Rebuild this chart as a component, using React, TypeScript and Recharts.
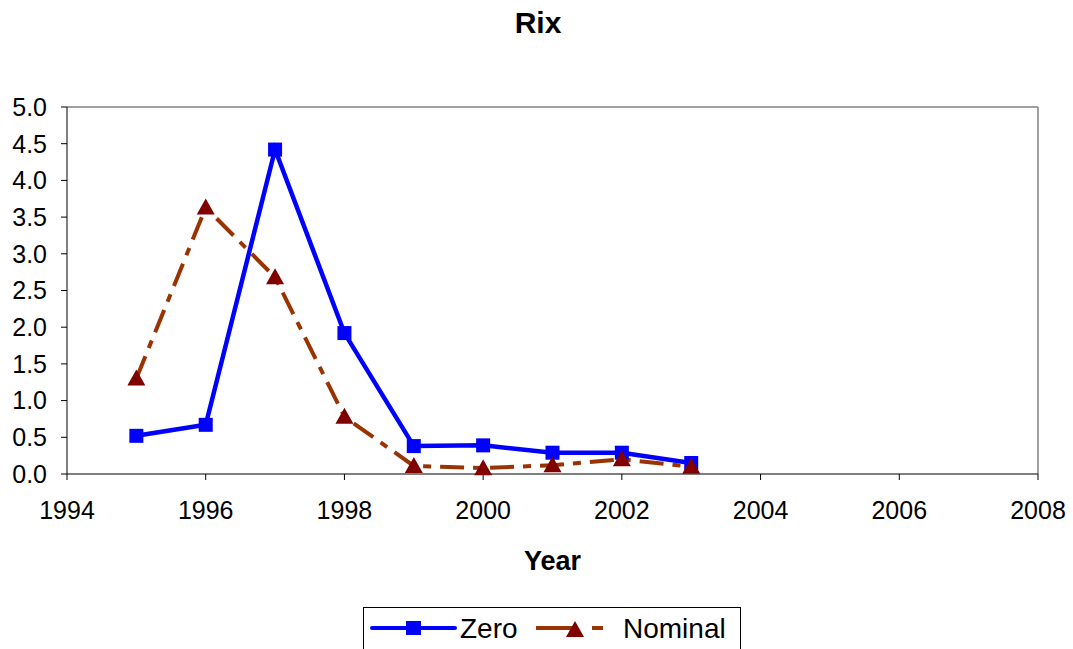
import React from 'react';
import { LineChart, Line, XAxis, YAxis, ReferenceLine, Customized } from 'recharts';

const years = [1995, 1996, 1997, 1998, 1999, 2000, 2001, 2002, 2003];
const zero = [0.52, 0.67, 4.42, 1.92, 0.38, 0.39, 0.29, 0.29, 0.15];
const nominal = [1.3, 3.63, 2.68, 0.78, 0.11, 0.08, 0.12, 0.2, 0.1];
const xTicks = [1994, 1996, 1998, 2000, 2002, 2004, 2006, 2008];
const yTicks = [0, 0.5, 1, 1.5, 2, 2.5, 3, 3.5, 4, 4.5, 5];

const data = years.map((year, i) => ({ year, Zero: zero[i], Nominal: nominal[i] }));

const font = 'Liberation Sans, Arial, sans-serif';

const Square = (props: any) => {
  const { cx, cy } = props;
  if (cx == null || cy == null) return null;
  return <rect x={cx - 7} y={cy - 7} width={14} height={14} fill="#0000ff" />;
};

const Triangle = (props: any) => {
  const { cx, cy } = props;
  if (cx == null || cy == null) return null;
  return <polygon points={`${cx},${cy - 9} ${cx + 9},${cy + 7} ${cx - 9},${cy + 7}`} fill="#800000" />;
};

// title and legend box drawn on top of the chart svg
const Extras = () => (
  <g>
    <text x={538} y={33} textAnchor="middle" fontFamily={font} fontSize={30} fontWeight="bold" fill="#000">
      Rix
    </text>
    <g transform="translate(363,607)">
      <rect x={0.5} y={0.5} width={377} height={60} fill="#fff" stroke="#000" />
      <line x1={9} y1={21} x2={92} y2={21} stroke="#0000ff" strokeWidth={4} strokeLinecap="round" />
      <rect x={43} y={14} width={15} height={14} fill="#0000ff" />
      <text x={97} y={31} fontFamily={font} fontSize={28} fill="#000">Zero</text>
      <line x1={173} y1={21} x2={212} y2={21} stroke="#993300" strokeWidth={4} />
      <line x1={229} y1={21} x2={240} y2={21} stroke="#993300" strokeWidth={4} />
      <polygon points="212,14 221,30 203,30" fill="#800000" />
      <text x={260} y={31} fontFamily={font} fontSize={28} fill="#000">Nominal</text>
    </g>
  </g>
);

export default function App() {
  return (
    <div style={{ position: 'absolute', left: 0, top: 0, background: '#fff' }}>
      <LineChart
        width={1073}
        height={649}
        data={data}
        margin={{ top: 107, right: 35, bottom: 145, left: 0 }}
      >
        <XAxis
          dataKey="year"
          type="number"
          domain={[1994, 2008]}
          ticks={xTicks}
          interval={0}
          height={30}
          allowDataOverflow
          stroke="#000"
          tickSize={6}
          tick={{ fill: '#000', fontSize: 25, fontFamily: font, dy: 19 }}
          label={{ value: 'Year', position: 'insideBottom', offset: -66, fill: '#000', fontSize: 27, fontWeight: 'bold', fontFamily: font }}
        />
        <YAxis
          type="number"
          domain={[0, 5]}
          ticks={yTicks}
          interval={0}
          width={67}
          stroke="#000"
          tickSize={6}
          tickFormatter={(v: number) => v.toFixed(1)}
          tick={{ fill: '#000', fontSize: 25, fontFamily: font, dx: -12 }}
        />
        <ReferenceLine y={5} stroke="#808080" strokeWidth={1.5} />
        <ReferenceLine x={2008} stroke="#808080" strokeWidth={1.5} />
        <Line
          dataKey="Zero"
          stroke="#0000ff"
          strokeWidth={4.5}
          dot={<Square />}
          activeDot={false}
          isAnimationActive={false}
        />
        <Line
          dataKey="Nominal"
          stroke="#993300"
          strokeWidth={4}
          strokeDasharray="24 9 8 9"
          dot={<Triangle />}
          activeDot={false}
          isAnimationActive={false}
        />
        <Customized component={Extras} />
      </LineChart>
    </div>
  );
}
